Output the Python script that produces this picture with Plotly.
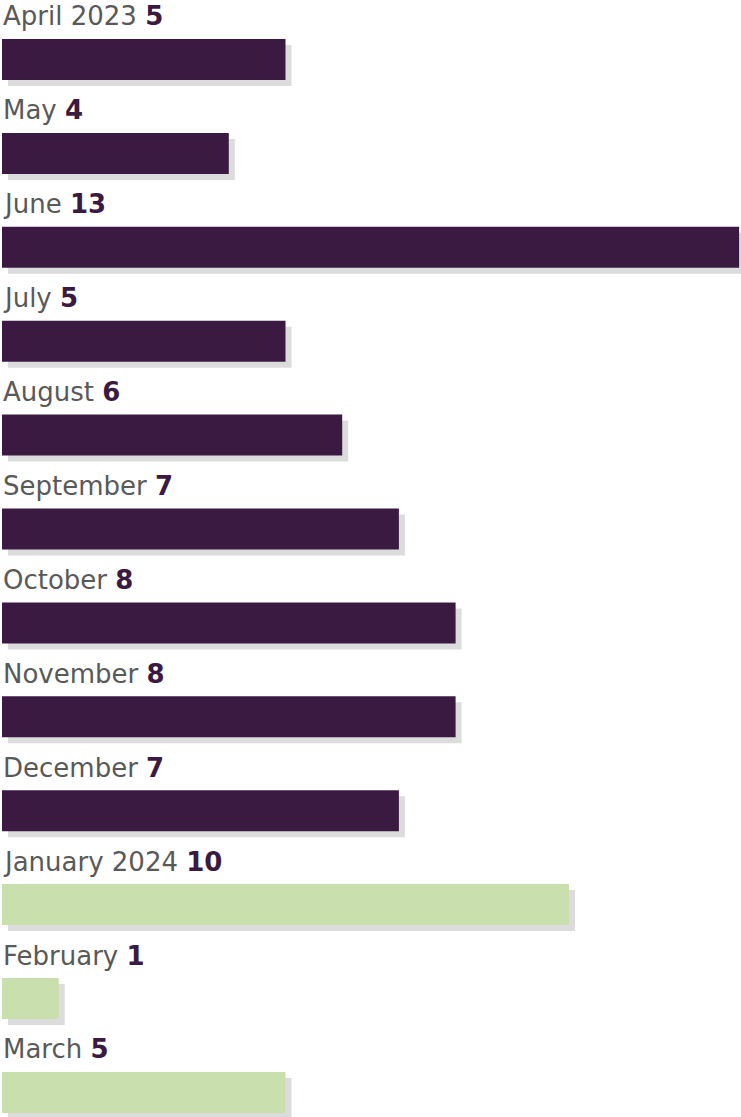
import plotly.graph_objects as go

months = ["April 2023", "May", "June", "July", "August", "September", "October",
          "November", "December", "January 2024", "February", "March"]
values = [5, 4, 13, 5, 6, 7, 8, 8, 7, 10, 1, 5]
colors = ["#3B1A42"] * 9 + ["#C9E0AE"] * 3

W, H = 741, 1117
px_per_unit_x = 56.7
x0_px = 2
row_px = 93.9
bar_px = 41
first_center_px = 59.5
shadow_dx, shadow_dy = 6, 6

idx = list(range(len(months)))
bar_w = bar_px / row_px

fig = go.Figure()
fig.add_trace(go.Bar(
    orientation="h",
    y=[i + shadow_dy / row_px for i in idx],
    x=values,
    base=shadow_dx / px_per_unit_x,
    width=bar_w,
    marker=dict(color="#DCDCDC", line=dict(width=0)),
    hoverinfo="skip",
))
fig.add_trace(go.Bar(
    orientation="h",
    y=idx,
    x=values,
    width=bar_w,
    marker=dict(color=colors, line=dict(width=0)),
    hoverinfo="skip",
))

for i, (m, v) in enumerate(zip(months, values)):
    fig.add_annotation(
        x=0, y=i - bar_w / 2, xref="x", yref="y",
        text=f"{m} <b><span style='color:#3B1A42'>{v}</span></b>",
        showarrow=False, xanchor="left", yanchor="bottom",
        xshift=-1, yshift=5.5,
        font=dict(family="DejaVu Sans", size=26, color="#595959"),
    )

y_top = -first_center_px / row_px
fig.update_layout(
    width=W, height=H,
    margin=dict(l=0, r=0, t=0, b=0),
    paper_bgcolor="white", plot_bgcolor="white",
    barmode="overlay", showlegend=False,
    xaxis=dict(range=[-x0_px / px_per_unit_x, (W - x0_px) / px_per_unit_x],
               visible=False, fixedrange=True),
    yaxis=dict(range=[y_top + H / row_px, y_top], visible=False, fixedrange=True),
)
fig.write_html("out.html")
